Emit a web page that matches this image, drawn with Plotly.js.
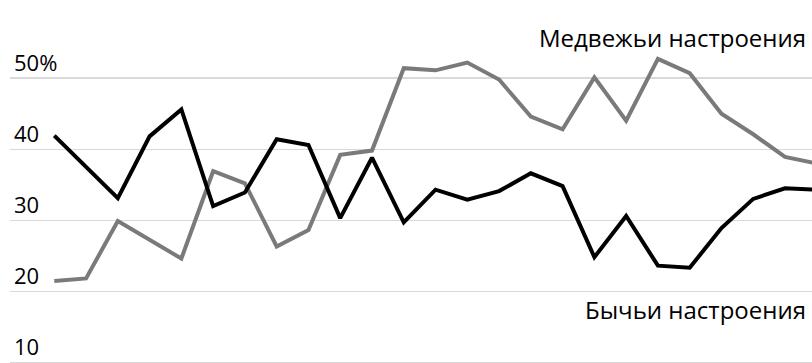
<!DOCTYPE html>
<html>
<head>
<meta charset="utf-8">
<script src="https://cdn.plot.ly/plotly-3.0.1.min.js"></script>
<style>html,body{margin:0;padding:0;background:#fff;overflow:hidden;}#chart{width:812px;height:400px;}</style>
</head>
<body>
<div id="chart"></div>
<script>
var periods = [0,1,2,3,4,5,6,7,8,9,10,11,12,13,14,15,16,17,18,19,20,21,22,23,24];
var bullish = [41.9,37.4,33.1,41.8,45.6,32.0,33.9,41.4,40.6,30.3,38.8,29.7,34.3,32.9,34.1,36.6,34.8,24.8,30.6,23.6,23.3,28.9,33.0,34.5,34.3];
var bearish = [21.45,21.8,29.9,27.3,24.6,36.9,35.2,26.3,28.6,39.2,39.8,51.4,51.1,52.2,49.8,44.6,42.8,50.1,44.0,52.7,50.7,45.0,42.1,38.9,38.0];
var tickVals = [10,20,30,40,50];
var tickText = ['10','20','30','40','50%'];
var bearLabel = 'Медвежьи настроения';
var bullLabel = 'Бычьи настроения';

var font = 'Open Sans, Noto Sans, sans-serif';
var H = 400;
var data = [
  {x: periods, y: bearish, type: 'scatter', mode: 'lines', line: {color: '#7a7a7a', width: 4}, hoverinfo: 'skip'},
  {x: periods, y: bullish, type: 'scatter', mode: 'lines', line: {color: '#000000', width: 4}, hoverinfo: 'skip'}
];
var layout = {
  width: 812, height: H,
  margin: {l: 10, r: 0, t: 0, b: 0},
  paper_bgcolor: '#ffffff', plot_bgcolor: '#ffffff',
  showlegend: false,
  font: {family: font, color: '#000000', size: 22},
  xaxis: {range: [-1.394, 23.85], showgrid: false, zeroline: false, showticklabels: false, showline: false, ticks: ''},
  yaxis: {
    range: [4.69, 61.0], tickvals: tickVals, ticktext: tickText,
    showgrid: true, gridcolor: '#d9d9d9', gridwidth: 1.3, zeroline: false, showline: false, ticks: '',
    ticklabelposition: 'inside', ticklabelshift: -15, ticklabelstandoff: 1,
    tickfont: {family: font, size: 22, color: '#000000'}
  },
  annotations: [
    {text: bearLabel, xref: 'paper', yref: 'paper', x: 0.995, y: 1 - 37/H, xanchor: 'right', yanchor: 'middle', showarrow: false, font: {family: font, size: 24, color: '#000'}},
    {text: bullLabel, xref: 'paper', yref: 'paper', x: 0.995, y: 1 - 309/H, xanchor: 'right', yanchor: 'middle', showarrow: false, font: {family: font, size: 24, color: '#000'}}
  ]
};
Plotly.newPlot('chart', data, layout, {staticPlot: true, displayModeBar: false});
</script>
</body>
</html>
